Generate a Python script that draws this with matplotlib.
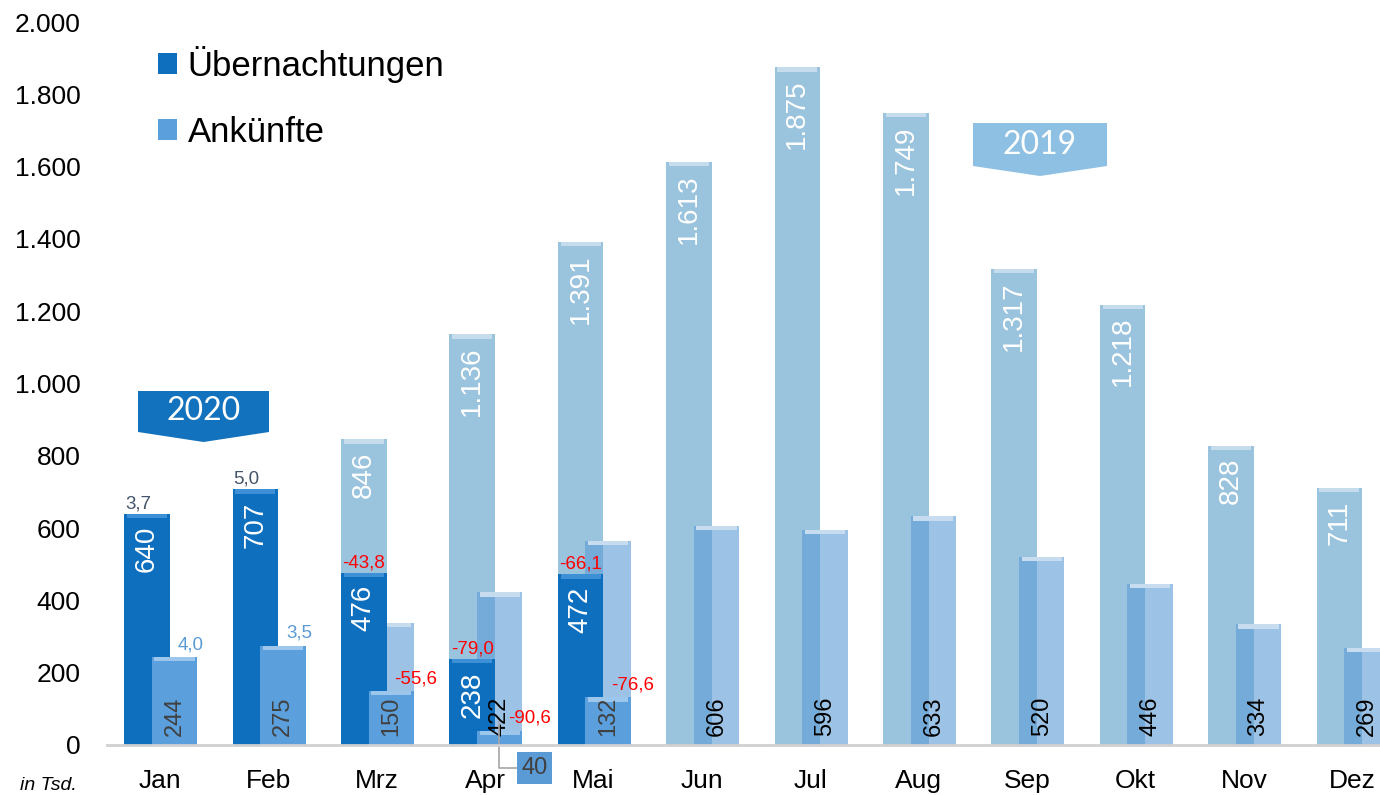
import matplotlib.pyplot as plt
import numpy as np
from matplotlib.patches import Patch, Polygon
from matplotlib.ticker import FuncFormatter

plt.rcParams["font.family"] = ["Liberation Sans", "DejaVu Sans"]

MONTHS = ["Jan", "Feb", "Mrz", "Apr", "Mai", "Jun", "Jul", "Aug", "Sep", "Okt", "Nov", "Dez"]

# 2019 (in Tsd.)
over_2019 = [617, 673, 846, 1136, 1391, 1613, 1875, 1749, 1317, 1218, 828, 711]
arr_2019 = [235, 266, 338, 422, 564, 606, 596, 633, 520, 446, 334, 269]

# 2020 (in Tsd.)
over_2020 = [640, 707, 476, 238, 472]
arr_2020 = [244, 275, 150, 40, 132]

# Veränderung zum Vorjahr in %
over_change = [3.7, 5.0, -43.8, -79.0, -66.1]
arr_change = [4.0, 3.5, -55.6, -90.6, -76.6]

C_OVER19 = "#9ac3de"
C_ARR19 = "#5b9bd5"
C_OVER20 = "#0e6fbf"
C_ARR20 = "#5b9fdc"


def de(v, dec=0):
    s = f"{v:,.{dec}f}"
    return s.replace(",", "X").replace(".", ",").replace("X", ".")


fig = plt.figure(figsize=(13.8, 7.95), dpi=100)
ax = fig.add_axes([107 / 1380, 50 / 795, 1273 / 1380, 723 / 795])

x = np.arange(len(MONTHS))
x_over = x - 0.12
x_arr = x + 0.134
w = 0.42
n = len(over_2020)

ax.bar(x_over, over_2019, w, color=C_OVER19, zorder=1)
ax.bar(x_arr, arr_2019, w, color=C_ARR19, alpha=0.6, zorder=2)
ax.bar(x_over[:n], over_2020, w, color=C_OVER20, zorder=3)
ax.bar(x_arr[:n], arr_2020, w, color=C_ARR20, zorder=4)

# bevel highlight at the top of each bar
for xs, vals, c, z in [(x_over, over_2019, "#c4dcec", 1.5),
                       (x_arr, arr_2019, "#c7dcef", 2.5),
                       (x_over[:n], over_2020, "#3d8fd6", 3.5),
                       (x_arr[:n], arr_2020, "#9cc6ec", 4.5)]:
    ax.bar(xs, [12] * len(vals), w * 0.88, bottom=np.array(vals) - 12, color=c, zorder=z)

# value labels
for i in range(2, len(MONTHS)):
    ax.text(x_over[i], over_2019[i] - 34, de(over_2019[i]), rotation=90, ha="center",
            va="top", color="white", fontsize=20, zorder=6)
for i in [3] + list(range(5, len(MONTHS))):
    ax.text(x_arr[i], 24, de(arr_2019[i]), rotation=90, ha="center", va="bottom",
            color="black", fontsize=17, zorder=6)
for i in range(n):
    ax.text(x_over[i], over_2020[i] - 34, de(over_2020[i]), rotation=90, ha="center",
            va="top", color="white", fontsize=20, zorder=6)
    if i != 3:
        ax.text(x_arr[i], 24, de(arr_2020[i]), rotation=90, ha="center", va="bottom",
                color="#404040", fontsize=17, zorder=6)
    oc = "#44546a" if over_change[i] > 0 else "red"
    dx = -0.08 if over_change[i] > 0 else 0
    ax.text(x_over[i] + dx, over_2020[i] + 4, de(over_change[i], 1), ha="center",
            va="bottom", color=oc, fontsize=13.5, zorder=6)
    ac = "#5b9bd5" if arr_change[i] > 0 else "red"
    dx = 0.08 if i == 3 else 0.03
    ax.text(x_arr[i] + dx, arr_2020[i] + 10, de(arr_change[i], 1), ha="left",
            va="bottom", color=ac, fontsize=13.5, zorder=6)

# April arrivals 2020 callout
ax.annotate(de(arr_2020[3]), xy=(x_arr[3] - 0.01, arr_2020[3] + 25),
            xytext=(x_arr[3] + 0.32, -64), ha="center", va="center",
            fontsize=17, color="#404040", annotation_clip=False, zorder=7,
            bbox=dict(boxstyle="square,pad=0.2", fc="#5b9bd5", ec="none"),
            arrowprops=dict(arrowstyle="-", color="#a6a6a6", lw=1.2,
                            connectionstyle="angle,angleA=0,angleB=90,rad=0",
                            shrinkA=0, shrinkB=0))

ax.set_xlim(-0.489, 11.255)
ax.set_ylim(0, 2000)
ax.set_yticks(range(0, 2001, 200))
ax.yaxis.set_major_formatter(FuncFormatter(lambda v, p: de(v)))
ax.set_xticks(x)
ax.set_xticklabels(MONTHS)
ax.tick_params(axis="y", length=0, pad=19, labelsize=19)
ax.tick_params(axis="x", length=0, pad=17, labelsize=19)
for s in ["top", "right", "left"]:
    ax.spines[s].set_visible(False)
ax.spines["bottom"].set_color("#d0d0d0")
ax.spines["bottom"].set_linewidth(2)
ax.spines["bottom"].set_zorder(10)


# year banners
def banner(x0, x1, y0, y1, tip, color, label):
    pts = [(x0, y0), (x1, y0), (x1, y1), ((x0 + x1) / 2, tip), (x0, y1)]
    pts = [(px / 1380, 1 - py / 795) for px, py in pts]
    fig.patches.append(Polygon(pts, closed=True, transform=fig.transFigure,
                               fc=color, ec="none", zorder=5))
    fig.text((x0 + x1) / 2 / 1380, 1 - (y0 + y1) / 2 / 795, label, ha="center",
             va="center", color="white", fontsize=23, family="Lato", zorder=6)


banner(138, 269, 391, 432, 442, "#1272bd", "2020")
banner(973, 1107, 123, 166, 176, "#8dc0e3", "2019")

ax.legend(handles=[Patch(fc=C_OVER20, label="Übernachtungen"),
                   Patch(fc=C_ARR20, label="Ankünfte")],
          loc="upper left", bbox_to_anchor=(158 / 1380, 1 - 46 / 795),
          bbox_transform=fig.transFigure, frameon=False, fontsize=25,
          handlelength=0.55, handleheight=0.55, handletextpad=0.3,
          labelspacing=0.95, borderpad=0, borderaxespad=0)

fig.text(48 / 1380, 1 - 785 / 795, "in Tsd.", ha="center", va="center",
         fontsize=14, style="italic")

fig.savefig("out.png", dpi=100)
